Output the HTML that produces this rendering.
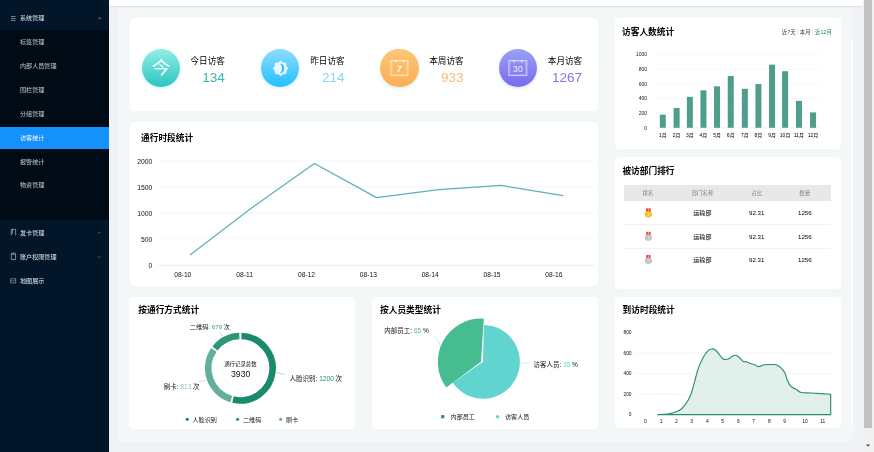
<!DOCTYPE html>
<html lang="zh-CN">
<head>
<meta charset="utf-8">
<title>访客统计</title>
<style>
*{box-sizing:border-box;margin:0;padding:0}
html,body{width:874px;height:452px;overflow:hidden;background:#f0f2f5;font-family:"Liberation Sans","Noto Sans CJK SC",sans-serif;color:#222}
.abs{position:absolute}
#side{position:absolute;left:0;top:0;width:109px;height:452px;background:#021529}
#sub{position:absolute;left:0;top:30px;width:109px;height:190px;background:#010b16}
.mi{position:absolute;left:20px;font-size:6.1px;line-height:10px;color:#c6ccd3;white-space:nowrap}
.mi.top{color:#e2e6ea}
#act{position:absolute;left:0;top:127px;width:109px;height:21.5px;background:#1491fb}
#hdr{position:absolute;left:109px;top:0;width:765px;height:6px;background:#fff;box-shadow:0 0.5px 2px rgba(0,21,41,.12)}
#inner{position:absolute;left:119px;top:8.2px;width:733px;height:433.4px;background:#f4f7f7}
.card{position:absolute;background:#fff;border-radius:4px}
.tt{position:absolute;font-size:8.7px;font-weight:bold;color:#000;line-height:12px;white-space:nowrap}
.circ{position:absolute;width:38.3px;height:38.3px;border-radius:50%}
.sl{position:absolute;font-size:8.6px;line-height:12px;color:#000;white-space:nowrap;text-align:right}
.sn{position:absolute;font-size:13.6px;line-height:14px;white-space:nowrap;text-align:right}
svg{position:absolute;left:0;top:0;overflow:visible}
svg text{font-family:"Liberation Sans","Noto Sans CJK SC",sans-serif}
.th{position:absolute;font-size:5.5px;color:#8a8a8a;line-height:10px;white-space:nowrap;transform:translateX(-50%)}
.td{position:absolute;font-size:6.1px;color:#000;line-height:10px;white-space:nowrap;transform:translateX(-50%)}
#sbt{position:absolute;left:863px;top:0;width:11px;height:452px;background:#f1f1f1}
#sbh{position:absolute;left:864px;top:0;width:8px;height:428px;background:#c1c1c1}
</style>
</head>
<body>

<div id="side"><div id="sub"></div><div id="act"></div>
<div class="mi top" style="top:13.3px">系统管理</div>
<div class="mi " style="top:37.2px">标签管理</div>
<div class="mi " style="top:61.1px">内部人员管理</div>
<div class="mi " style="top:85px">围栏管理</div>
<div class="mi " style="top:109px">分组管理</div>
<div class="mi top" style="top:132.8px;color:#fff">访客统计</div>
<div class="mi " style="top:156.6px">报警统计</div>
<div class="mi " style="top:180.2px">物资管理</div>
<div class="mi top" style="top:227.6px">发卡管理</div>
<div class="mi top" style="top:252px">账户权限管理</div>
<div class="mi top" style="top:276.3px">地图展示</div>
<svg width="109" height="452" viewBox="0 0 109 452">
<rect x="11" y="15.95" width="4.6" height="0.7" fill="#aeb6c0"/>
<rect x="11" y="17.95" width="4.6" height="0.7" fill="#aeb6c0"/>
<rect x="11" y="19.95" width="4.6" height="0.7" fill="#aeb6c0"/>
<path d="M98.2 19.1 L99.7 17.6 L101.2 19.1" fill="none" stroke="#aab3bd" stroke-width="0.7"/>
<path d="M11.3 235.4 v-6.1 h4.3 v6.1 M12.5 229.3 v4.6" fill="none" stroke="#c9d0d8" stroke-width="0.6"/>
<path d="M97.6 232 L99 233.4 L100.4 232" fill="none" stroke="#7f8a96" stroke-width="0.6"/>
<rect x="11.3" y="253.2" width="4.3" height="6.4" rx="0.4" fill="none" stroke="#c9d0d8" stroke-width="0.65"/><rect x="12.3" y="253.9" width="2.3" height="0.7" fill="#c9d0d8"/>
<path d="M97.6 256.4 L99 257.8 L100.4 256.4" fill="none" stroke="#7f8a96" stroke-width="0.6"/>
<path d="M10.7 278.7 h5 v4.3 h-5 z M10.7 281.6 l1.6 -1.3 l1.3 1 l2.1 -1.7" fill="none" stroke="#aeb6c0" stroke-width="0.6"/>
</svg>
</div>
<div id="hdr"></div><div id="inner"></div>
<div class="card" style="left:129.5px;top:18px;width:468.7px;height:93px"></div>
<div class="circ" style="left:141.75px;top:48.8px;background:linear-gradient(180deg,#8ff0e6,#2cc4c0);box-shadow:0 1.5px 3px rgba(80,200,200,.25)"></div>
<div class="sl" style="left:164.9px;width:60px;top:54.6px">今日访客</div>
<div class="sn" style="left:164.9px;width:60px;top:70.5px;color:#3ab3b2">134</div>
<div class="circ" style="left:260.65px;top:48.8px;background:linear-gradient(180deg,#8fdcff,#22bfff);box-shadow:0 1.5px 3px rgba(80,200,200,.25)"></div>
<div class="sl" style="left:284.6px;width:60px;top:54.6px">昨日访客</div>
<div class="sn" style="left:284.6px;width:60px;top:70.5px;color:#86d6fa">214</div>
<div class="circ" style="left:380.45px;top:48.8px;background:linear-gradient(180deg,#fdc676,#fbae55);box-shadow:0 1.5px 3px rgba(80,200,200,.25)"></div>
<div class="sl" style="left:403.6px;width:60px;top:54.6px">本周访客</div>
<div class="sn" style="left:403.6px;width:60px;top:70.5px;color:#fbbb7a">933</div>
<div class="circ" style="left:499.05px;top:48.8px;background:linear-gradient(180deg,#9aa0f4,#7a6af0);box-shadow:0 1.5px 3px rgba(80,200,200,.25)"></div>
<div class="sl" style="left:522.2px;width:60px;top:54.6px">本月访客</div>
<div class="sn" style="left:522.2px;width:60px;top:70.5px;color:#8577ee">1267</div>
<svg width="874" height="452" viewBox="0 0 874 452">
<text transform="translate(161.1,68.1) scale(1,0.9)" x="0" y="6.97" font-size="18.8" fill="#fff" text-anchor="middle">今</text>
<polygon points="280.6,61.1 282.86,62.95 285.76,63.24 286.05,66.14 287.9,68.4 286.05,70.66 285.76,73.56 282.86,73.85 280.6,75.7 278.34,73.85 275.44,73.56 275.15,70.66 273.3,68.4 275.15,66.14 275.44,63.24 278.34,62.95" fill="#fff" fill-opacity=".86" stroke="#fff" stroke-opacity=".86" stroke-width="0.8" stroke-linejoin="round"/>
<path d="M279.9 63.6 A5.05 5.05 0 0 1 279.9 73.6 A6.8 6.8 0 0 0 279.9 63.6Z" fill="#35bdff"/>
<rect x="390.9" y="60.7" width="17" height="15" fill="none" stroke="#fff" stroke-width="0.7" stroke-opacity=".9"/>
<rect x="392" y="61.9" width="14.8" height="12.6" fill="none" stroke="#fff" stroke-width="0.5" stroke-opacity=".45"/>
<rect x="395" y="59.8" width="0.9" height="2.6" fill="#fff"/><rect x="403" y="59.8" width="0.9" height="2.6" fill="#fff"/>
<text x="399.4" y="71.9" font-size="8.2" fill="#fff" fill-opacity=".92" text-anchor="middle" font-weight="bold" font-style="italic">7</text>
<rect x="508.9" y="60.7" width="18" height="15" fill="none" stroke="#fff" stroke-width="0.7" stroke-opacity=".9"/>
<rect x="510" y="61.9" width="15.8" height="12.6" fill="none" stroke="#fff" stroke-width="0.5" stroke-opacity=".45"/>
<rect x="513.5" y="59.8" width="0.9" height="2.6" fill="#fff"/><rect x="521.5" y="59.8" width="0.9" height="2.6" fill="#fff"/>
<text x="517.9" y="71.9" font-size="8.6" fill="#fff" fill-opacity=".92" text-anchor="middle" font-weight="normal" font-style="normal">30</text>
</svg>
<div class="card" style="left:129.5px;top:121.8px;width:468.7px;height:164.6px"></div>
<div class="tt" style="left:141px;top:131.6px">通行时段统计</div>
<svg width="874" height="452" viewBox="0 0 874 452">
<line x1="158.4" x2="594" y1="265.3" y2="265.3" stroke="#dedede" stroke-width="0.6"/>
<text x="152.4" y="267.7" font-size="6.8" fill="#111" text-anchor="end">0</text>
<line x1="158.4" x2="594" y1="239.25" y2="239.25" stroke="#f6f6f6" stroke-width="0.6"/>
<text x="152.4" y="241.65" font-size="6.8" fill="#111" text-anchor="end">500</text>
<line x1="158.4" x2="594" y1="213.2" y2="213.2" stroke="#e9e9e9" stroke-width="0.6"/>
<text x="152.4" y="215.6" font-size="6.8" fill="#111" text-anchor="end">1000</text>
<line x1="158.4" x2="594" y1="187.15" y2="187.15" stroke="#ededed" stroke-width="0.6"/>
<text x="152.4" y="189.55" font-size="6.8" fill="#111" text-anchor="end">1500</text>
<line x1="158.4" x2="594" y1="161.1" y2="161.1" stroke="#ececec" stroke-width="0.6"/>
<text x="152.4" y="163.5" font-size="6.8" fill="#111" text-anchor="end">2000</text>
<text x="182.8" y="276.6" font-size="6.7" fill="#111" text-anchor="middle">08-10</text>
<text x="244.65" y="276.6" font-size="6.7" fill="#111" text-anchor="middle">08-11</text>
<text x="306.5" y="276.6" font-size="6.7" fill="#111" text-anchor="middle">08-12</text>
<text x="368.35" y="276.6" font-size="6.7" fill="#111" text-anchor="middle">08-13</text>
<text x="430.2" y="276.6" font-size="6.7" fill="#111" text-anchor="middle">08-14</text>
<text x="492.05" y="276.6" font-size="6.7" fill="#111" text-anchor="middle">08-15</text>
<text x="553.9" y="276.6" font-size="6.7" fill="#111" text-anchor="middle">08-16</text>
<polyline points="190,254.88 252.2,207.47 314.4,163.55 376.6,197.67 438.8,189.7 501,185.38 563.2,195.69" fill="none" stroke="#58b3b6" stroke-width="1.25" stroke-linejoin="round"/>
</svg>
<div class="card" style="left:129.4px;top:296.6px;width:225.6px;height:132px"></div>
<div class="tt" style="left:138.3px;top:303.8px">按通行方式统计</div>
<svg width="874" height="452" viewBox="0 0 874 452">
<path d="M241.41 336.02 A32.2 32.2 0 1 1 233.05 399.55" fill="none" stroke="#1a8a6d" stroke-width="6.6"/>
<path d="M231.31 399.09 A32.2 32.2 0 0 1 213.93 349.87" fill="none" stroke="#62b09c" stroke-width="6.6"/>
<path d="M214.99 348.42 A32.2 32.2 0 0 1 239.39 336.02" fill="none" stroke="#2e9579" stroke-width="6.6"/>
<path d="M276.2 372.2 L284.6 374.7" stroke="#7cc5b5" stroke-width="0.6" fill="none"/>
<path d="M219.4 331.4 L222.8 336" stroke="#7cc5b5" stroke-width="0.6" fill="none"/>
<path d="M198.4 382.2 L205 380" stroke="#a8d8cd" stroke-width="0.6" fill="none"/>
<text x="189.8" y="328.7" font-size="6.2" fill="#151515">二维码: <tspan fill="#2e9579">679</tspan> 次</text>
<text x="289.4" y="381.2" font-size="6.55" fill="#151515">人脸识别: <tspan fill="#1a8a6d">1200</tspan> 次</text>
<text x="163.8" y="389.2" font-size="6.5" fill="#151515">刷卡: <tspan fill="#8cc9ba">813</tspan> 次</text>
<text x="240.4" y="366.3" font-size="5.4" fill="#151515" text-anchor="middle">通行记录总数</text>
<text x="240.7" y="377.4" font-size="8.7" fill="#151515" text-anchor="middle">3930</text>
<circle cx="187.2" cy="419.3" r="1.6" fill="#1a8a6d"/>
<text x="192.5" y="421.6" font-size="6.1" fill="#151515">人脸识别</text>
<circle cx="237.6" cy="419.3" r="1.6" fill="#2e9579"/>
<text x="243" y="421.6" font-size="6.1" fill="#151515">二维码</text>
<circle cx="280.7" cy="419.3" r="1.6" fill="#62b09c"/>
<text x="286" y="421.6" font-size="6.1" fill="#151515">刷卡</text>
</svg>
<div class="card" style="left:372.3px;top:296.6px;width:226px;height:132px"></div>
<div class="tt" style="left:380px;top:303.8px">按人员类型统计</div>
<svg width="874" height="452" viewBox="0 0 874 452">
<path d="M483 361.8 L483.9 324.91 A36.9 36.9 0 1 1 452.7 382.86 Z" fill="#62d4d0"/>
<path d="M481 361.8 L446.23 387.44 A43.2 43.2 0 0 1 483.79 318.69 Z" fill="#45bd90"/>
<path d="M435 336.6 Q438.5 340 440.2 345.2" stroke="#9adcc0" stroke-width="0.6" fill="none"/>
<path d="M520.6 363.1 L529 363.1" stroke="#a6e6e3" stroke-width="0.6" fill="none"/>
<text x="384.3" y="332.9" font-size="6.5" fill="#151515">内部员工: <tspan fill="#45bd90">65</tspan> %</text>
<text x="533.4" y="366.6" font-size="6.5" fill="#151515">访客人员: <tspan fill="#62d4d0">35</tspan> %</text>
<rect x="441.1" y="415.1" width="3.2" height="3.2" fill="#2f8e75"/>
<text x="450.6" y="419" font-size="6.1" fill="#151515">内部员工</text>
<circle cx="497.6" cy="416.7" r="1.7" fill="#62d4d0"/>
<text x="505" y="419" font-size="6.1" fill="#151515">访客人员</text>
</svg>
<div class="card" style="left:615px;top:18px;width:226.2px;height:130.6px"></div>
<div class="tt" style="left:622px;top:26px">访客人数统计</div>
<svg width="874" height="452" viewBox="0 0 874 452">
<text x="781.8" y="34.2" font-size="5.4" fill="#444">近7天</text>
<text x="799.8" y="34.2" font-size="5.4" fill="#444">本月</text>
<text x="815" y="34.2" font-size="5.4" fill="#1a8a6d">近12月</text>
<rect x="797.5" y="29.6" width="0.5" height="5" fill="#ccc"/><rect x="812.4" y="29.6" width="0.5" height="5" fill="#ccc"/>
<line x1="654.7" x2="820.1" y1="127.8" y2="127.8" stroke="#e6e6e6" stroke-width="0.6"/>
<text x="647.2" y="129.6" font-size="5.1" fill="#222" text-anchor="end">0</text>
<line x1="654.7" x2="820.1" y1="113.16" y2="113.16" stroke="#f2f2f2" stroke-width="0.6"/>
<text x="647.2" y="114.96" font-size="5.1" fill="#222" text-anchor="end">200</text>
<line x1="654.7" x2="820.1" y1="98.52" y2="98.52" stroke="#f2f2f2" stroke-width="0.6"/>
<text x="647.2" y="100.32" font-size="5.1" fill="#222" text-anchor="end">400</text>
<line x1="654.7" x2="820.1" y1="83.88" y2="83.88" stroke="#f2f2f2" stroke-width="0.6"/>
<text x="647.2" y="85.68" font-size="5.1" fill="#222" text-anchor="end">600</text>
<line x1="654.7" x2="820.1" y1="69.24" y2="69.24" stroke="#f2f2f2" stroke-width="0.6"/>
<text x="647.2" y="71.04" font-size="5.1" fill="#222" text-anchor="end">800</text>
<line x1="654.7" x2="820.1" y1="54.6" y2="54.6" stroke="#f2f2f2" stroke-width="0.6"/>
<text x="647.2" y="56.4" font-size="5.1" fill="#222" text-anchor="end">1000</text>
<rect x="659.79" y="114.7" width="6" height="13.1" fill="#4e9e8c"/>
<text x="662.79" y="137.4" font-size="5" fill="#000" text-anchor="middle">1月</text>
<rect x="673.63" y="107.96" width="6" height="19.84" fill="#4e9e8c"/>
<text x="676.63" y="137.4" font-size="5" fill="#000" text-anchor="middle">2月</text>
<rect x="686.85" y="96.84" width="6" height="30.96" fill="#4e9e8c"/>
<text x="689.85" y="137.4" font-size="5" fill="#000" text-anchor="middle">3月</text>
<rect x="700.44" y="90.32" width="6" height="37.48" fill="#4e9e8c"/>
<text x="703.44" y="137.4" font-size="5" fill="#000" text-anchor="middle">4月</text>
<rect x="714.03" y="86.3" width="6" height="41.5" fill="#4e9e8c"/>
<text x="717.03" y="137.4" font-size="5" fill="#000" text-anchor="middle">5月</text>
<rect x="727.75" y="75.97" width="6" height="51.83" fill="#4e9e8c"/>
<text x="730.75" y="137.4" font-size="5" fill="#000" text-anchor="middle">6月</text>
<rect x="741.84" y="88.78" width="6" height="39.02" fill="#4e9e8c"/>
<text x="744.84" y="137.4" font-size="5" fill="#000" text-anchor="middle">7月</text>
<rect x="755.43" y="84.03" width="6" height="43.77" fill="#4e9e8c"/>
<text x="758.43" y="137.4" font-size="5" fill="#000" text-anchor="middle">8月</text>
<rect x="769.03" y="64.63" width="6" height="63.17" fill="#4e9e8c"/>
<text x="772.03" y="137.4" font-size="5" fill="#000" text-anchor="middle">9月</text>
<rect x="782.11" y="71.22" width="6" height="56.58" fill="#4e9e8c"/>
<text x="785.11" y="137.4" font-size="5" fill="#000" text-anchor="middle">10月</text>
<rect x="795.96" y="100.86" width="6" height="26.94" fill="#4e9e8c"/>
<text x="798.96" y="137.4" font-size="5" fill="#000" text-anchor="middle">11月</text>
<rect x="810.05" y="112.43" width="6" height="15.37" fill="#4e9e8c"/>
<text x="813.05" y="137.4" font-size="5" fill="#000" text-anchor="middle">12月</text>
</svg>
<div class="card" style="left:615px;top:157px;width:226.2px;height:132.4px"></div>
<div class="tt" style="left:622.4px;top:164.8px">被访部门排行</div>
<div class="abs" style="left:624.4px;top:185.3px;width:207px;height:15.4px;background:#e8e8e8"></div>
<div class="th" style="left:647.9px;top:188.4px">排名</div>
<div class="th" style="left:702.4px;top:188.4px">部门名称</div>
<div class="th" style="left:756.7px;top:188.4px">占比</div>
<div class="th" style="left:804.8px;top:188.4px">数量</div>
<div class="td" style="left:702.4px;top:208.3px">运输部</div>
<div class="td" style="left:756.7px;top:208.3px">92.31</div>
<div class="td" style="left:804.8px;top:208.3px">1256</div>
<div class="abs" style="left:624.4px;top:224.4px;width:207px;height:0.6px;background:#f2f2f2"></div>
<div class="td" style="left:702.4px;top:231.7px">运输部</div>
<div class="td" style="left:756.7px;top:231.7px">92.31</div>
<div class="td" style="left:804.8px;top:231.7px">1256</div>
<div class="abs" style="left:624.4px;top:247.8px;width:207px;height:0.6px;background:#f2f2f2"></div>
<div class="td" style="left:702.4px;top:254.8px">运输部</div>
<div class="td" style="left:756.7px;top:254.8px">92.31</div>
<div class="td" style="left:804.8px;top:254.8px">1256</div>
<svg width="874" height="452" viewBox="0 0 874 452">
<path d="M646.1 208.4 h4.6 v3.4 h-4.6z" fill="#ea4335"/>
<rect x="648.05" y="209" width="0.7" height="1.6" fill="#fff" fill-opacity=".8"/>
<ellipse cx="648.4" cy="214.3" rx="3.7" ry="3.1" fill="#f6c41c"/>
<rect x="648" y="212.9" width="0.8" height="2.8" fill="#fbe08a"/>
<path d="M646.1 231.8 h4.6 v3.4 h-4.6z" fill="#e8564c"/>
<rect x="648.05" y="232.4" width="0.7" height="1.6" fill="#fff" fill-opacity=".8"/>
<ellipse cx="648.4" cy="237.7" rx="3.7" ry="3.1" fill="#c6c6c6"/>
<rect x="648" y="236.3" width="0.8" height="2.8" fill="#dddddd"/>
<path d="M646.1 254.9 h4.6 v3.4 h-4.6z" fill="#e8564c"/>
<rect x="648.05" y="255.5" width="0.7" height="1.6" fill="#fff" fill-opacity=".8"/>
<ellipse cx="648.4" cy="260.8" rx="3.7" ry="3.1" fill="#c6c6c6"/>
<rect x="648" y="259.4" width="0.8" height="2.8" fill="#dddddd"/>
</svg>
<div class="card" style="left:615px;top:296.6px;width:226.2px;height:131.4px"></div>
<div class="tt" style="left:622.6px;top:304.4px">到访时段统计</div>
<svg width="874" height="452" viewBox="0 0 874 452">
<text x="631.6" y="416.3" font-size="4.9" fill="#111" text-anchor="end">0</text>
<line x1="635" x2="832.7" y1="394.05" y2="394.05" stroke="#f0f0f0" stroke-width="0.6"/>
<text x="631.6" y="395.75" font-size="4.9" fill="#111" text-anchor="end">200</text>
<line x1="635" x2="832.7" y1="373.5" y2="373.5" stroke="#f0f0f0" stroke-width="0.6"/>
<text x="631.6" y="375.2" font-size="4.9" fill="#111" text-anchor="end">400</text>
<line x1="635" x2="832.7" y1="352.95" y2="352.95" stroke="#f0f0f0" stroke-width="0.6"/>
<text x="631.6" y="354.65" font-size="4.9" fill="#111" text-anchor="end">600</text>
<text x="631.6" y="334.1" font-size="4.9" fill="#111" text-anchor="end">800</text>
<text x="645.4" y="422.8" font-size="4.9" fill="#111" text-anchor="middle">0</text>
<text x="661" y="422.8" font-size="4.9" fill="#111" text-anchor="middle">1</text>
<text x="676.4" y="422.8" font-size="4.9" fill="#111" text-anchor="middle">2</text>
<text x="691.7" y="422.8" font-size="4.9" fill="#111" text-anchor="middle">3</text>
<text x="707.3" y="422.8" font-size="4.9" fill="#111" text-anchor="middle">4</text>
<text x="722.7" y="422.8" font-size="4.9" fill="#111" text-anchor="middle">5</text>
<text x="738.3" y="422.8" font-size="4.9" fill="#111" text-anchor="middle">6</text>
<text x="753.7" y="422.8" font-size="4.9" fill="#111" text-anchor="middle">7</text>
<text x="769.3" y="422.8" font-size="4.9" fill="#111" text-anchor="middle">8</text>
<text x="784.6" y="422.8" font-size="4.9" fill="#111" text-anchor="middle">9</text>
<text x="805" y="422.8" font-size="4.9" fill="#111" text-anchor="middle">10</text>
<text x="822.7" y="422.8" font-size="4.9" fill="#111" text-anchor="middle">11</text>
<path d="M657.75 414.64 C659.64 414.51 665.52 414.55 669.08 413.88 C672.65 413.21 676.42 412.21 679.15 410.61 C681.88 409.02 683.55 406.84 685.44 404.32 C687.33 401.8 689.01 399.08 690.48 395.51 C691.94 391.94 692.99 387.33 694.25 382.92 C695.51 378.52 696.56 373.28 698.03 369.08 C699.49 364.89 701.38 360.82 703.06 357.75 C704.74 354.69 706.63 352.18 708.09 350.71 C709.56 349.24 710.61 349.03 711.87 348.95 C713.13 348.86 714.39 349.24 715.65 350.2 C716.9 351.17 718.16 353.27 719.42 354.73 C720.68 356.2 721.73 358.3 723.2 359.01 C724.66 359.73 726.76 359.43 728.23 359.01 C729.7 358.59 730.83 357.13 732.01 356.5 C733.18 355.87 734.23 355.24 735.28 355.24 C736.33 355.24 736.96 355.45 738.3 356.5 C739.64 357.55 742.07 360.69 743.33 361.53 C744.59 362.37 744.8 361.24 745.85 361.53 C746.9 361.82 748.16 362.75 749.62 363.29 C751.09 363.84 753.19 364.26 754.66 364.8 C756.13 365.35 756.76 366.56 758.43 366.56 C760.11 366.56 762.63 365.14 764.73 364.8 C766.82 364.47 769.13 364.55 771.02 364.55 C772.91 364.55 774.38 364.26 776.05 364.8 C777.73 365.35 779.62 366.48 781.09 367.82 C782.56 369.17 783.81 370.76 784.86 372.86 C785.91 374.95 786.33 378.1 787.38 380.41 C788.43 382.71 789.69 385.23 791.16 386.7 C792.62 388.17 794.51 388.25 796.19 389.22 C797.87 390.18 798.71 391.86 801.22 392.49 C803.74 393.12 806.38 392.7 811.29 392.99 C816.2 393.29 827.44 394.04 830.67 394.25 L830.67 414.6 L657.75 414.6 Z" fill="#e2f0ec" stroke="#2a8c73" stroke-width="1.15" stroke-linejoin="round"/>
</svg>
<div class="abs" style="left:852px;top:38px;width:0.7px;height:392px;background:#fff"></div>
<div id="sbt"></div><div id="sbh"></div>
<svg width="874" height="452" viewBox="0 0 874 452"><path d="M866 444.6 h4.2 l-2.1 2.2z" fill="#505050"/></svg>
</body></html>
